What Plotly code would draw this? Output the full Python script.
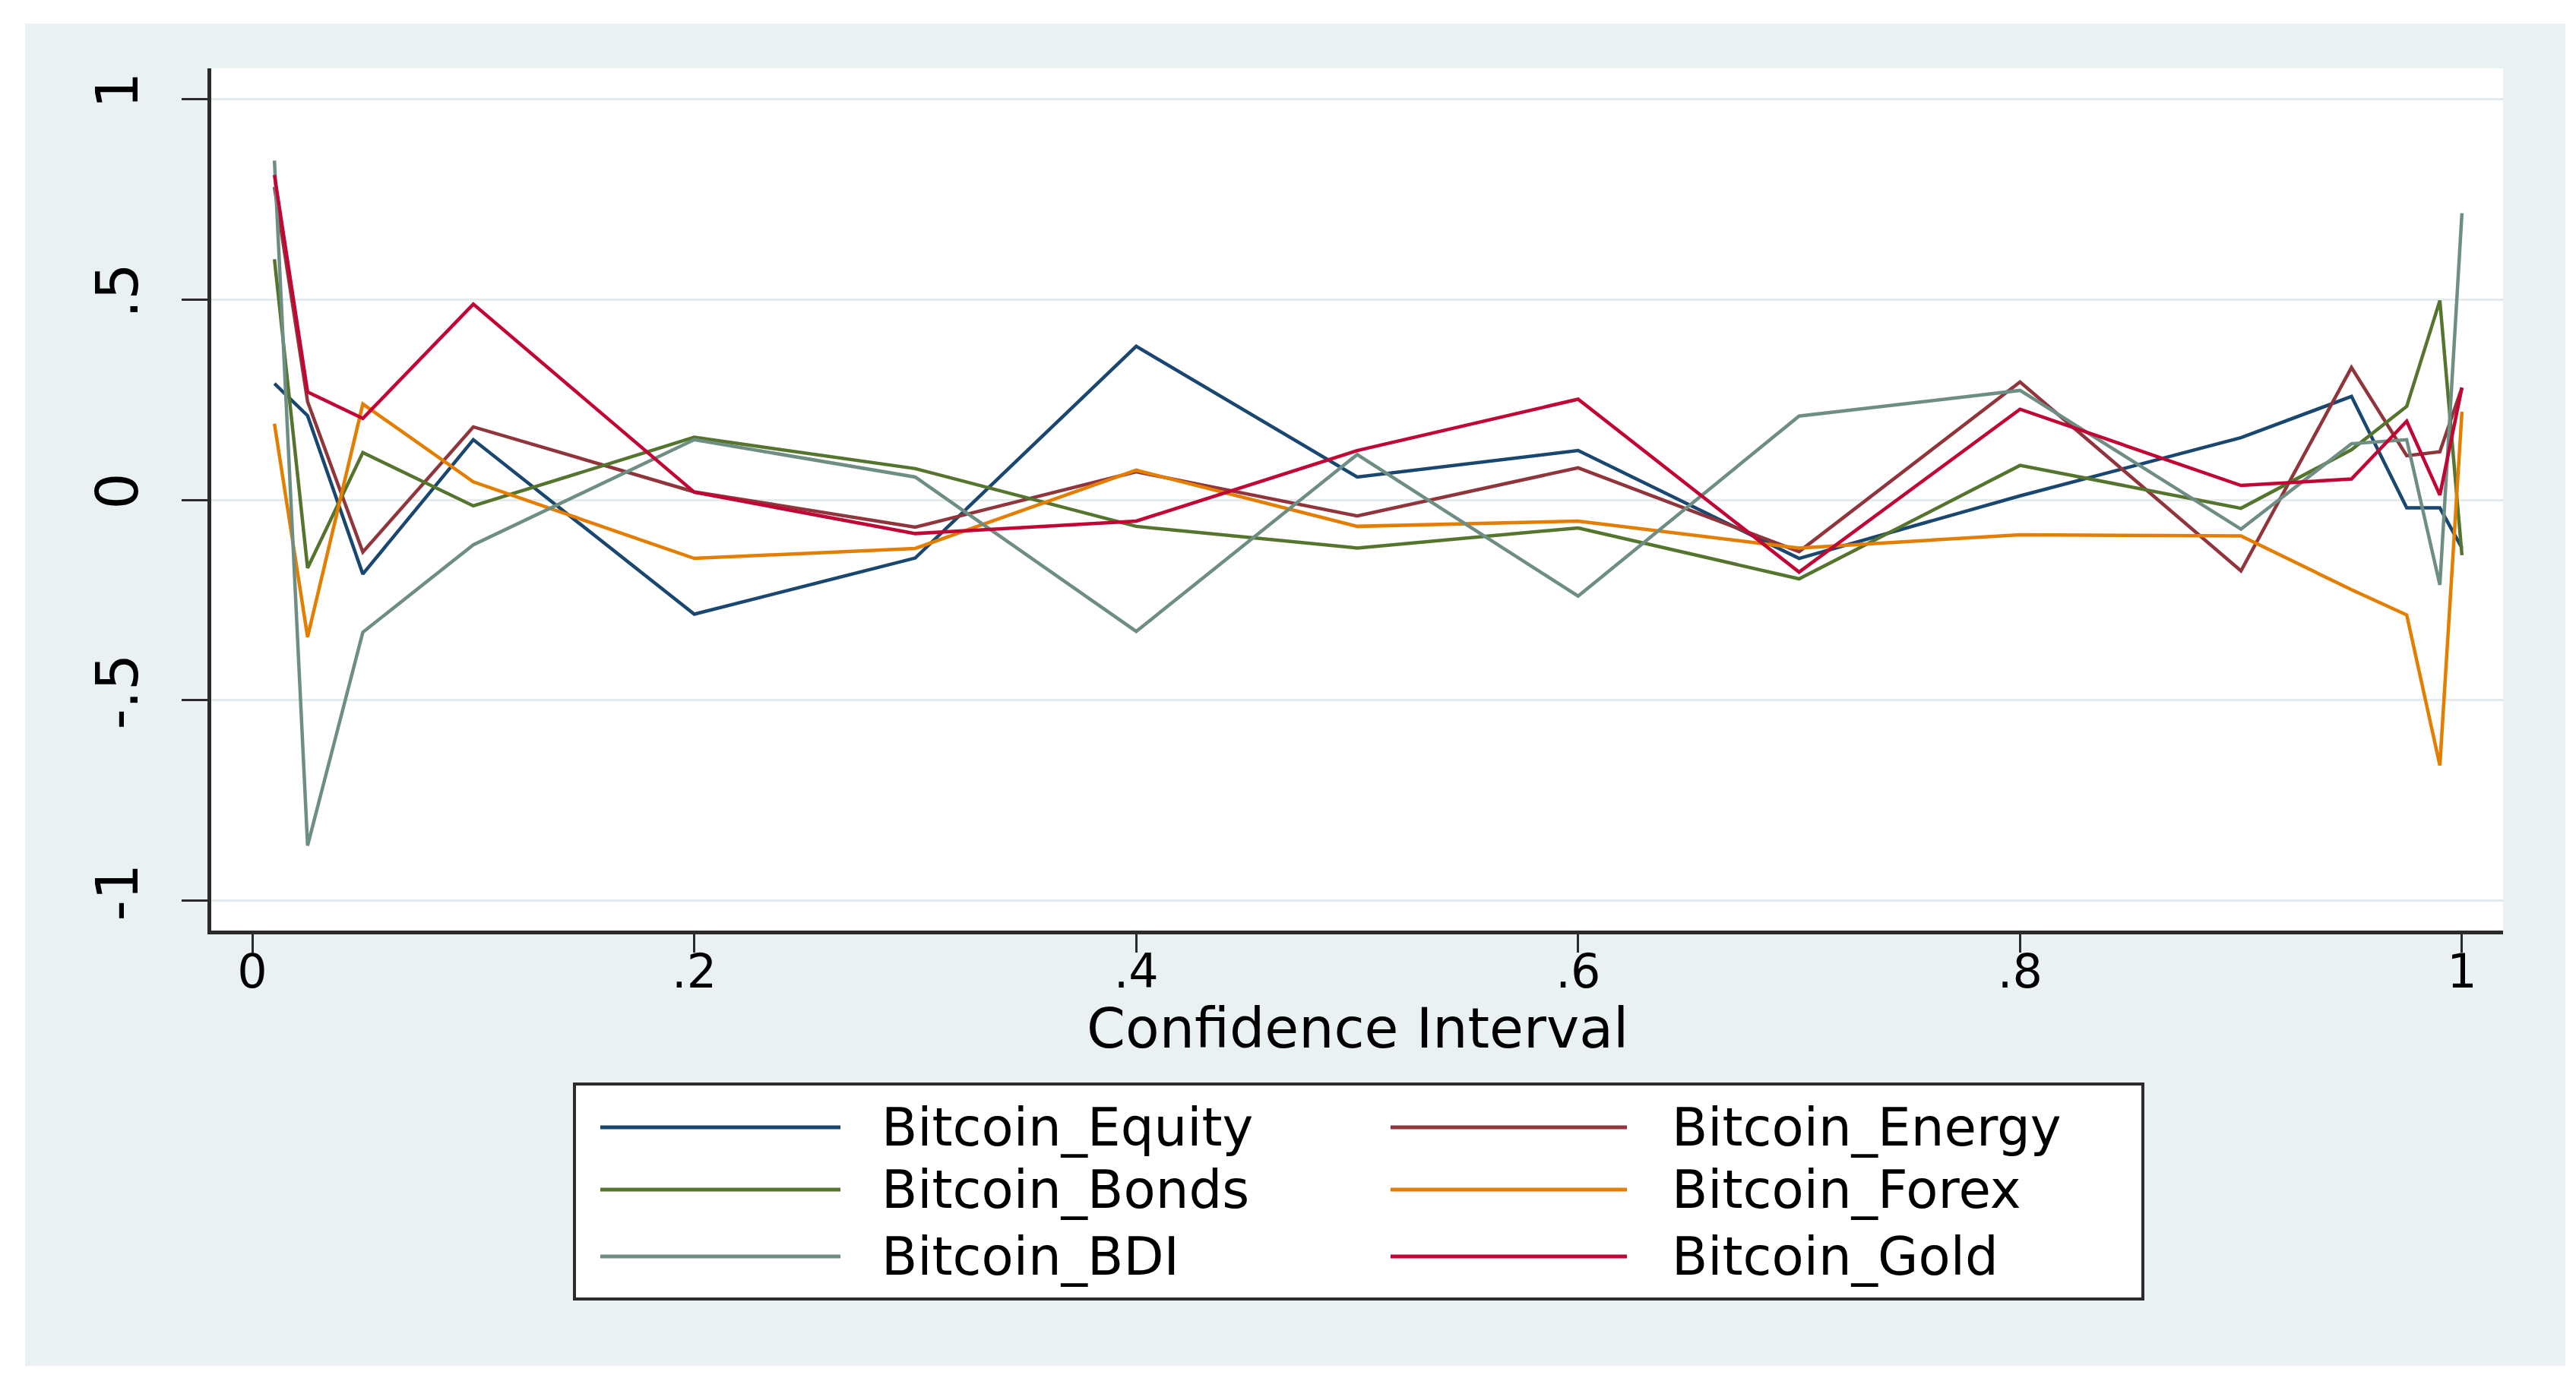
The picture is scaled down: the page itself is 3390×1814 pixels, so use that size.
import plotly.graph_objects as go

# ---------------- data ----------------
ci = [0.01, 0.025, 0.05, 0.1, 0.2, 0.3, 0.4, 0.5, 0.6, 0.7, 0.8, 0.9, 0.95, 0.975, 0.99, 1.0]

bitcoin_equity = [0.29, 0.21, -0.185, 0.15, -0.285, -0.145, 0.383, 0.057, 0.123, -0.146, 0.01, 0.155, 0.258, -0.02, -0.02, -0.12]
bitcoin_energy = [0.78, 0.245, -0.13, 0.182, 0.02, -0.068, 0.07, -0.04, 0.08, -0.129, 0.294, -0.177, 0.33, 0.11, 0.12, 0.28]
bitcoin_bonds = [0.60, -0.17, 0.118, -0.015, 0.156, 0.078, -0.066, -0.12, -0.07, -0.197, 0.086, -0.021, 0.125, 0.233, 0.497, -0.138]
bitcoin_forex = [0.19, -0.342, 0.239, 0.045, -0.146, -0.121, 0.074, -0.066, -0.053, -0.12, -0.087, -0.09, -0.224, -0.287, -0.662, 0.22]
bitcoin_bdi = [0.846, -0.862, -0.33, -0.112, 0.15, 0.057, -0.328, 0.113, -0.24, 0.209, 0.273, -0.073, 0.14, 0.15, -0.212, 0.715]
bitcoin_gold = [0.81, 0.269, 0.203, 0.488, 0.019, -0.084, -0.053, 0.123, 0.251, -0.18, 0.226, 0.036, 0.052, 0.196, 0.012, 0.28]

series_names = ["Bitcoin_Equity", "Bitcoin_Energy", "Bitcoin_Bonds",
                "Bitcoin_Forex", "Bitcoin_BDI", "Bitcoin_Gold"]
series_values = [bitcoin_equity, bitcoin_energy, bitcoin_bonds,
                 bitcoin_forex, bitcoin_bdi, bitcoin_gold]
series_colors = ["#1a476f", "#90353b", "#55752f", "#e37e00", "#6e8e84", "#c10534"]

x_tickvals = [0, 0.2, 0.4, 0.6, 0.8, 1]
x_ticktext = ["0", ".2", ".4", ".6", ".8", "1"]
y_tickvals = [-1, -0.5, 0, 0.5, 1]
y_ticktext = ["-1", "-.5", "0", ".5", "1"]
x_title = "Confidence Interval"

# ---------------- layout geometry (pixels) ----------------
W, H = 3390, 1814
L, R, T, B = 270, 3286, 82, 1217


def px(x):
    return (x - L) / (R - L)


def py(y):
    return (B - y) / (B - T)


FONT = "DejaVu Sans"
BG = "#e9f1f3"

fig = go.Figure()
for name, vals, col in zip(series_names, series_values, series_colors):
    fig.add_trace(go.Scatter(x=ci, y=vals, mode="lines", name=name,
                             line=dict(color=col, width=4.5), showlegend=False))

shapes = [
    dict(type="rect", xref="paper", yref="paper", x0=px(25), x1=px(3368),
         y0=py(1790), y1=py(23), fillcolor=BG, line=dict(width=0), layer="below"),
    dict(type="rect", xref="paper", yref="paper", x0=0, x1=1, y0=0, y1=1,
         fillcolor="white", line=dict(width=0), layer="below"),
    dict(type="rect", xref="paper", yref="paper", x0=px(748), x1=px(2812),
         y0=py(1702), y1=py(1419), fillcolor="white",
         line=dict(color="#2b2b2b", width=4), layer="below"),
]
annotations = [
    dict(text=x_title, xref="paper", yref="paper", x=0.5, y=py(1345),
         xanchor="center", yanchor="middle", showarrow=False,
         font=dict(family=FONT, size=73, color="black")),
]
rows_y = [1476, 1558, 1646]
col_line = [(782, 1098), (1822, 2133)]
col_text = [1150, 2190]
for i, (name, col) in enumerate(zip(series_names, series_colors)):
    r, c = divmod(i, 2)
    yy = rows_y[r]
    shapes.append(dict(type="line", xref="paper", yref="paper",
                       x0=px(col_line[c][0]), x1=px(col_line[c][1]),
                       y0=py(yy), y1=py(yy), line=dict(color=col, width=5), layer="above"))
    annotations.append(dict(text=name, xref="paper", yref="paper",
                            x=px(col_text[c]), y=py(yy), xanchor="left", yanchor="middle",
                            showarrow=False, font=dict(family=FONT, size=69, color="black")))

fig.update_layout(
    width=W, height=H,
    margin=dict(l=L, r=W - R, t=T, b=H - B, pad=0),
    paper_bgcolor="white", plot_bgcolor="white",
    shapes=shapes, annotations=annotations,
    font=dict(family=FONT, color="black"),
    xaxis=dict(range=[-0.0186, 1.0186], tickvals=x_tickvals, ticktext=x_ticktext,
               showgrid=False, zeroline=False, showline=True, linecolor="#2b2b2b",
               linewidth=5, ticks="outside", ticklen=24, tickwidth=3, tickcolor="#2b2b2b",
               tickfont=dict(family=FONT, size=62, color="black"), ticklabelstandoff=-28),
    yaxis=dict(range=[-1.074, 1.076], tickvals=y_tickvals, ticktext=y_ticktext,
               showgrid=True, gridcolor="#e4ebee", gridwidth=3, zeroline=False,
               showline=True, linecolor="#2b2b2b", linewidth=5, ticks="outside",
               ticklen=34, tickwidth=3, tickcolor="#2b2b2b", tickangle=-90,
               tickfont=dict(family=FONT, size=76, color="black"), ticklabelstandoff=28),
)

fig.write_html("out.html")
